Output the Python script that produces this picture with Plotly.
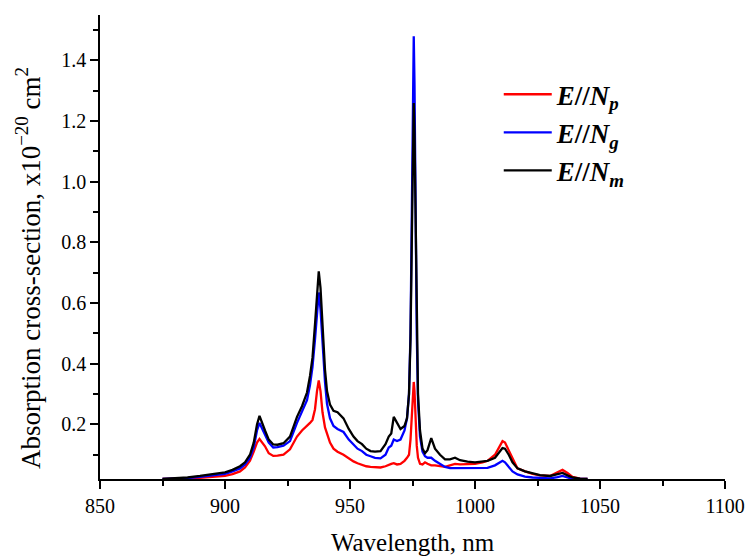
import plotly.graph_objects as go

wavelength = [875, 880, 885, 890, 895, 900, 903, 906, 908, 910, 911.5, 912.8, 913.8, 915, 916, 917.5,
              919.3, 921, 923.4, 926, 928.8, 930.8, 932.8, 934, 935, 936, 936.8, 937.5, 938.2, 939, 940,
              940.8, 942, 943.4, 945, 947.4, 949.5, 951.4, 953, 954.8, 956.5, 958.2, 960, 962.2, 964.2,
              965.5, 966.5, 967.5, 968.8, 970.2, 971.8, 972.8, 973.6, 974.2, 974.8, 975.2, 975.5, 975.8,
              976.2, 976.7, 977.2, 978, 979, 980, 981, 982.5, 984, 986, 988, 990, 992, 994, 997, 1000,
              1003, 1005, 1008, 1010, 1011, 1012, 1013.5, 1015, 1017, 1020, 1023, 1026, 1030, 1033, 1035,
              1037, 1039, 1042, 1045]

sigma_m = [0.02, 0.022, 0.025, 0.03, 0.035, 0.042, 0.05, 0.062, 0.075, 0.10, 0.14, 0.20, 0.228, 0.2, 0.18, 0.15,
           0.134, 0.133, 0.138, 0.16, 0.225, 0.26, 0.305, 0.36, 0.42, 0.53, 0.64, 0.705, 0.65, 0.52, 0.38,
           0.31, 0.265, 0.245, 0.24, 0.22, 0.185, 0.16, 0.145, 0.135, 0.12, 0.112, 0.11, 0.112, 0.135,
           0.16, 0.17, 0.225, 0.205, 0.185, 0.195, 0.22, 0.3, 0.48, 0.85, 1.15, 1.26, 1.16,
           0.85, 0.5, 0.3, 0.18, 0.12, 0.105, 0.115, 0.155, 0.12, 0.1, 0.085, 0.085, 0.09, 0.082, 0.077, 0.075,
           0.078, 0.08, 0.09, 0.11, 0.122, 0.12, 0.1, 0.075, 0.055, 0.045, 0.038, 0.033, 0.03, 0.035, 0.04,
           0.032, 0.025, 0.021, 0.02]

sigma_g = [0.02, 0.021, 0.023, 0.027, 0.031, 0.037, 0.045, 0.055, 0.068, 0.09, 0.125, 0.18, 0.205, 0.185, 0.165, 0.14,
           0.124, 0.125, 0.13, 0.145, 0.205, 0.24, 0.28, 0.33, 0.39, 0.48, 0.57, 0.635, 0.58, 0.46, 0.34,
           0.268, 0.22, 0.195, 0.185, 0.175, 0.15, 0.134, 0.12, 0.112, 0.1, 0.095, 0.09, 0.088, 0.1,
           0.124, 0.13, 0.15, 0.145, 0.15, 0.18, 0.22, 0.3, 0.5, 0.9, 1.3, 1.48, 1.32,
           0.9, 0.5, 0.28, 0.16, 0.11, 0.095, 0.09, 0.09, 0.08, 0.07, 0.06, 0.056, 0.056, 0.055, 0.055, 0.055,
           0.055, 0.057, 0.065, 0.075, 0.08, 0.075, 0.06, 0.045, 0.035, 0.028, 0.025, 0.023, 0.022, 0.026, 0.03,
           0.025, 0.021, 0.02, 0.02]

sigma_p = [0.02, 0.021, 0.022, 0.024, 0.027, 0.03, 0.036, 0.045, 0.058, 0.08, 0.11, 0.14, 0.152, 0.14, 0.128, 0.105,
           0.096, 0.097, 0.1, 0.118, 0.16, 0.18, 0.195, 0.205, 0.215, 0.25, 0.31, 0.345, 0.31, 0.24, 0.19,
           0.17, 0.14, 0.12, 0.11, 0.1, 0.088, 0.078, 0.072, 0.066, 0.062, 0.06, 0.058, 0.058, 0.062,
           0.068, 0.07, 0.072, 0.068, 0.07, 0.08, 0.09, 0.1, 0.15, 0.25, 0.32, 0.34, 0.31,
           0.22, 0.13, 0.09, 0.07, 0.068, 0.075, 0.07, 0.065, 0.065, 0.062, 0.06, 0.065, 0.07, 0.068, 0.068, 0.07,
           0.075, 0.08, 0.1, 0.13, 0.145, 0.14, 0.115, 0.085, 0.055, 0.045, 0.037, 0.032, 0.03, 0.042, 0.05,
           0.04, 0.027, 0.021, 0.02]

assert len(wavelength) == len(sigma_m) == len(sigma_g) == len(sigma_p), (
    len(wavelength), len(sigma_m), len(sigma_g), len(sigma_p))

series_names = ["<b><i>E</i>//<i>N</i><sub><i>p</i></sub></b>",
                "<b><i>E</i>//<i>N</i><sub><i>g</i></sub></b>",
                "<b><i>E</i>//<i>N</i><sub><i>m</i></sub></b>"]
series_values = [sigma_p, sigma_g, sigma_m]
series_colors = ["#ff0000", "#0000ff", "#000000"]

x_ticks = [850, 900, 950, 1000, 1050, 1100]
y_ticks = [0.2, 0.4, 0.6, 0.8, 1.0, 1.2, 1.4]

FONT = "Liberation Serif, Times New Roman, serif"

fig = go.Figure()
for i, (name, vals, col) in enumerate(zip(series_names, series_values, series_colors)):
    fig.add_trace(go.Scatter(x=wavelength, y=vals, mode="lines", name=name,
                             legendgroup=f"g{i}",
                             line=dict(color=col, width=2.3)))

fig.update_layout(
    width=746, height=556,
    margin=dict(l=100, r=21, t=15, b=77),
    paper_bgcolor="white", plot_bgcolor="white",
    font=dict(family=FONT, size=19, color="black"),
    legend=dict(x=0.638, y=0.881, xanchor="left", yanchor="top",
                font=dict(family=FONT, size=27, color="black"),
                itemwidth=48,
                bgcolor="rgba(0,0,0,0)", tracegroupgap=0),
    xaxis=dict(range=[850, 1100], tickvals=x_ticks, ticktext=[str(v) for v in x_ticks],
               automargin=False,
               showgrid=False, zeroline=False, showline=True, linecolor="black", linewidth=1.5,
               ticks="outside", ticklen=8, tickwidth=1.5, tickcolor="black",
               minor=dict(ticks="outside", ticklen=5, tickwidth=1.5, tickcolor="black", dtick=25, tick0=850),
               tickfont=dict(family=FONT, size=20),
               title=dict(text="Wavelength, nm", font=dict(family=FONT, size=25), standoff=22)),
    yaxis=dict(range=[0.02, 1.55], tickvals=y_ticks, ticktext=[f"{v:.1f}" for v in y_ticks],
               automargin=False,
               showgrid=False, zeroline=False, showline=True, linecolor="black", linewidth=1.5,
               ticks="outside", ticklen=8, tickwidth=1.5, tickcolor="black",
               minor=dict(ticks="outside", ticklen=5, tickwidth=1.5, tickcolor="black", dtick=0.1, tick0=0),
               tickfont=dict(family=FONT, size=20)),
    annotations=[dict(text="Absorption cross-section, x10<sup>\u221220</sup> cm<sup>2</sup>",
                      textangle=-90, xref="paper", yref="paper", x=-0.115, y=0.455,
                      xanchor="center", yanchor="middle", showarrow=False,
                      font=dict(family=FONT, size=27, color="black"))],
)

fig.write_html("out.html")
